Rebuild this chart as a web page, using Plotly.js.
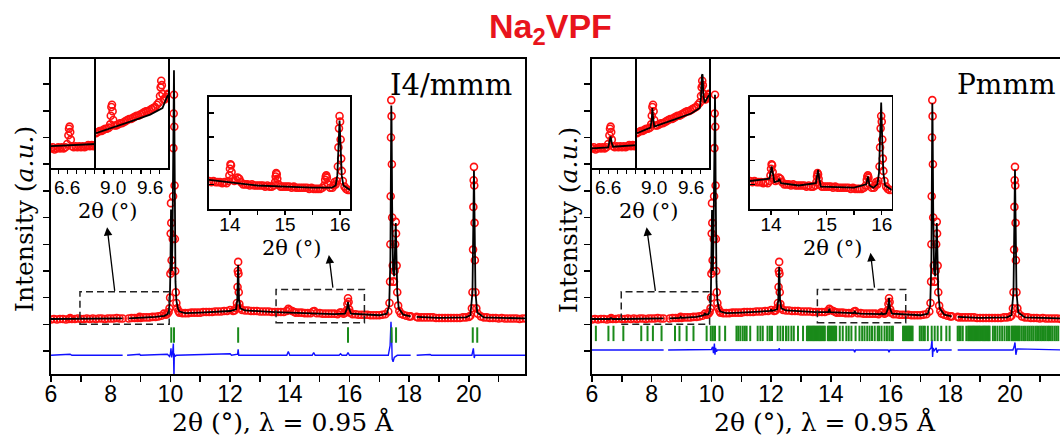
<!DOCTYPE html>
<html><head><meta charset="utf-8">
<script src="https://cdn.plot.ly/plotly-3.0.1.min.js"></script>
<style>body{margin:0;background:#fff}#c{width:1060px;height:437px}</style>
</head><body><div id="c"></div>
<script>
// ---------- main pattern (observed, same data in both panels) ----------
const obsX = [6.0,6.1,6.2,6.3,6.4,6.5,6.6,6.64,6.7,6.8,6.9,7.0,7.1,7.2,7.3,7.4,7.5,7.6,7.7,7.8,7.9,8.0,8.1,8.2,8.3,8.4,null,
8.6,8.7,8.8,8.9,8.97,9.0,9.1,9.2,9.3,9.4,9.5,9.6,9.7,9.78,9.85,9.9,9.94,9.97,9.99,10.0,10.01,10.02,10.03,10.04,
10.06,10.08,10.09,10.10,10.11,10.12,10.13,10.14,10.15,10.16,10.18,10.2,10.23,10.27,10.3,
10.4,10.5,10.6,10.7,10.8,10.9,11.0,11.1,11.2,11.3,11.4,11.5,11.6,11.7,11.8,11.9,12.0,12.1,12.15,12.2,
12.23,12.25,12.26,12.27,12.28,12.29,12.31,12.34,12.4,12.5,12.6,12.7,12.8,12.9,13.0,13.1,13.2,13.3,13.4,13.5,13.6,13.7,13.8,13.9,13.95,14.0,14.08,14.15,14.2,14.3,14.4,14.5,14.6,14.7,14.78,14.82,14.9,15.0,15.1,15.2,15.3,15.4,15.5,15.6,15.68,15.72,15.8,15.86,15.9,15.93,15.95,15.97,15.99,16.02,16.1,16.2,16.3,16.4,16.5,16.6,16.7,16.8,16.9,17.0,17.1,17.2,17.3,17.34,
17.36,17.37,17.38,17.39,17.40,17.41,17.42,17.43,17.45,17.47,17.49,17.51,17.53,17.55,17.56,17.58,17.6,17.63,17.67,17.72,17.8,17.9,18.0,18.05,null,
18.25,18.3,18.4,18.5,18.6,18.7,18.8,18.9,19.0,19.1,19.2,19.3,19.4,19.5,19.6,19.7,19.8,19.9,20.0,20.05,20.1,
20.12,20.14,20.15,20.16,20.17,20.18,20.19,20.2,20.22,20.25,20.3,20.4,20.5,20.6,20.7,20.8,20.9,21.0,21.1,21.2,21.3,21.4,21.5,21.6,21.7,21.8,21.9];
const obsY = [0.09,0.10,0.09,0.10,0.10,0.09,0.10,0.12,0.10,0.10,0.11,0.10,0.10,0.11,0.10,0.11,0.10,0.11,0.11,0.10,0.11,0.11,0.11,0.12,0.11,0.11,null,
0.11,0.12,0.12,0.12,0.14,0.12,0.13,0.13,0.13,0.14,0.14,0.15,0.16,0.20,0.18,0.20,0.23,0.30,0.5,0.95,1.7,2.27,1.9,1.2,
1.0,1.6,2.4,3.3,3.95,4.3,3.7,2.6,1.6,1.0,0.6,0.4,0.3,0.25,0.22,
0.21,0.21,0.21,0.22,0.22,0.22,0.22,0.23,0.23,0.23,0.23,0.24,0.24,0.24,0.25,0.25,0.27,0.25,0.26,0.30,
0.4,0.7,1.0,1.17,0.95,0.6,0.38,0.3,0.27,0.26,0.26,0.25,0.25,0.25,0.24,0.24,0.24,0.24,0.23,0.23,0.23,0.23,0.23,0.25,0.29,0.27,0.25,0.23,0.22,0.22,0.22,0.21,0.21,0.21,0.24,0.25,0.21,0.21,0.20,0.20,0.20,0.20,0.20,0.19,0.22,0.22,0.20,0.22,0.26,0.38,0.49,0.42,0.28,0.22,0.19,0.19,0.18,0.18,0.18,0.18,0.17,0.17,0.17,0.17,0.18,0.19,0.24,0.40,
0.8,1.5,2.4,3.5,4.2,3.9,3.0,2.0,1.1,0.8,0.8,1.0,1.5,1.92,1.7,1.1,0.6,0.35,0.25,0.2,0.18,0.16,0.15,0.15,null,
0.14,0.13,0.13,0.13,0.13,0.13,0.13,0.12,0.12,0.12,0.12,0.12,0.12,0.12,0.12,0.12,0.13,0.13,0.14,0.16,0.3,
0.6,1.4,2.2,2.7,2.95,2.6,1.9,1.2,0.6,0.3,0.2,0.15,0.13,0.13,0.12,0.12,0.12,0.11,0.12,0.11,0.11,0.11,0.11,0.11,0.10,0.11,0.11];

// ---------- calculated patterns ----------
const calcI4X = [6.0,7.0,8.0,8.4,null,8.6,9.0,9.5,9.8,9.9,9.95,9.98,10.0,10.01,10.02,10.03,10.04,10.05,10.07,10.09,10.11,10.12,10.13,10.14,10.15,10.17,10.2,10.25,10.3,10.5,11.0,11.5,12.0,12.2,12.24,12.26,12.27,12.28,12.3,12.34,12.5,13.0,13.5,14.0,14.5,15.0,15.5,15.85,15.92,15.95,15.98,16.05,16.5,17.0,17.25,17.33,17.37,17.39,17.4,17.41,17.43,17.46,17.5,17.53,17.55,17.57,17.6,17.65,17.8,18.05,null,18.25,19.0,19.9,20.05,20.12,20.15,20.17,20.19,20.22,20.28,20.5,21.9];
const calcI4Y = [0.10,0.10,0.11,0.11,null,0.11,0.12,0.14,0.16,0.19,0.25,0.45,1.0,1.8,2.15,1.8,1.2,1.0,1.6,2.8,4.3,4.76,4.0,2.8,1.7,0.8,0.45,0.3,0.24,0.21,0.22,0.24,0.25,0.28,0.45,0.9,1.11,0.9,0.45,0.3,0.26,0.24,0.23,0.22,0.21,0.20,0.19,0.20,0.3,0.42,0.3,0.2,0.18,0.17,0.2,0.35,1.2,3.0,4.1,3.8,2.2,1.0,0.9,1.5,1.9,1.4,0.6,0.3,0.18,0.15,null,0.14,0.12,0.13,0.17,0.6,2.2,2.88,2.0,0.6,0.22,0.13,0.11];
const calcPmX = [6.0,6.6,6.64,6.68,7.0,8.0,8.4,null,8.6,8.94,8.97,9.0,9.5,9.75,9.78,9.81,9.9,9.95,9.98,10.0,10.01,10.02,10.03,10.04,10.05,10.07,10.09,10.11,10.12,10.13,10.14,10.15,10.17,10.2,10.25,10.3,10.5,11.0,11.5,11.97,12.0,12.03,12.2,12.24,12.26,12.27,12.28,12.3,12.34,12.5,13.0,13.5,13.92,13.95,13.98,14.5,14.77,14.8,14.83,15.0,15.5,15.67,15.7,15.73,15.85,15.92,15.95,15.98,16.05,16.5,17.0,17.25,17.33,17.37,17.39,17.4,17.41,17.43,17.46,17.5,17.53,17.55,17.57,17.6,17.65,17.8,18.05,null,18.25,19.0,19.9,20.05,20.12,20.15,20.17,20.19,20.22,20.28,20.5,21.9];
const calcPmY = [0.10,0.10,0.12,0.10,0.10,0.11,0.11,null,0.11,0.12,0.14,0.12,0.14,0.17,0.21,0.18,0.19,0.25,0.45,1.0,1.8,2.14,1.8,1.2,1.0,1.6,2.8,4.0,4.3,3.9,2.8,1.7,0.8,0.45,0.3,0.24,0.21,0.22,0.24,0.25,0.28,0.25,0.28,0.45,0.9,1.08,0.9,0.45,0.3,0.26,0.24,0.23,0.23,0.29,0.23,0.21,0.21,0.25,0.21,0.20,0.19,0.19,0.22,0.19,0.20,0.3,0.49,0.3,0.2,0.18,0.17,0.2,0.35,1.2,3.0,4.14,3.8,2.2,1.0,0.9,1.5,1.9,1.4,0.6,0.3,0.18,0.15,null,0.14,0.12,0.13,0.17,0.6,2.2,2.9,2.0,0.6,0.22,0.13,0.11];

// ---------- difference curves ----------
const diffI4X = [6.0,6.64,6.7,8.4,null,8.55,8.97,9.0,9.78,9.9,9.97,10.0,10.02,10.04,10.08,10.1,10.11,10.12,10.13,10.15,10.2,12.0,12.05,12.25,12.27,12.29,13.9,13.95,14.0,14.75,14.8,14.85,15.65,15.7,15.75,15.9,15.95,16.0,17.3,17.36,17.39,17.41,17.43,17.46,17.5,17.55,17.6,18.05,null,18.25,18.7,18.75,20.1,20.15,20.18,20.2,21.9];
const diffI4Y = [-0.58,-0.56,-0.58,-0.58,null,-0.58,-0.56,-0.58,-0.56,-0.56,-0.6,-0.55,-0.45,-0.62,-0.5,-0.36,-0.7,-1.0,-0.55,-0.6,-0.58,-0.55,-0.58,-0.56,-0.47,-0.58,-0.58,-0.51,-0.58,-0.58,-0.53,-0.58,-0.58,-0.55,-0.58,-0.58,-0.53,-0.58,-0.58,-0.4,0.05,-0.2,-0.65,-0.7,-0.62,-0.6,-0.58,-0.58,null,-0.58,-0.565,-0.58,-0.58,-0.45,-0.63,-0.58,-0.58];
const diffPmX = [6.0,8.4,null,8.55,9.9,10.0,10.04,10.07,10.1,10.12,10.14,10.17,10.2,12.25,12.27,12.29,14.77,14.8,14.83,15.92,15.95,15.98,17.3,17.36,17.39,17.41,17.43,17.46,17.53,17.56,17.6,18.05,null,18.25,20.1,20.14,20.17,20.2,20.24,21.9];
const diffPmY = [-0.48,-0.48,null,-0.48,-0.48,-0.47,-0.42,-0.54,-0.36,-0.57,-0.44,-0.51,-0.48,-0.48,-0.45,-0.48,-0.48,-0.52,-0.48,-0.48,-0.52,-0.48,-0.48,-0.44,-0.29,-0.61,-0.44,-0.5,-0.44,-0.53,-0.48,-0.48,null,-0.48,-0.48,-0.42,-0.34,-0.57,-0.46,-0.48];

// ---------- Bragg reflection positions ----------
const braggI4 = [10.03,10.12,12.27,15.95,17.41,17.56,20.13,20.28];
const braggPm = [6.13,6.55,6.72,7.05,7.65,7.86,8.04,8.33,8.78,8.93,9.17,9.40,9.84,9.98,10.05,10.12,10.27,10.46,
10.84,10.9,10.97,11.05,11.12,11.18,11.3,11.55,11.64,11.72,11.88,11.96,12.03,12.22,12.31,12.4,12.5,12.58,12.68,12.76,12.9,13.07,
13.2,13.24,13.28,13.32,13.36,13.4,13.44,13.48,13.52,13.56,13.6,13.64,13.68,13.72,13.76,13.8,13.9,13.94,13.98,14.02,14.06,14.1,14.14,14.18,
14.3,14.4,14.52,14.6,14.69,14.83,14.96,15.05,15.13,15.22,15.3,15.38,15.47,15.57,15.62,15.7,15.8,15.88,15.96,16.03,16.08,
16.42,16.46,16.5,16.54,16.58,16.62,16.66,16.7,16.74,16.98,17.04,17.1,17.15,17.25,17.38,17.48,17.58,17.7,17.87,17.98,
18.25,18.3,18.35,18.42,18.54,18.6,18.64,18.68,18.72,18.76,18.8,18.84,18.88,18.92,18.96,19.0,19.05,19.09,19.13,19.17,19.21,19.25,19.29,19.32,
19.43,19.5,19.58,19.66,19.74,19.82,19.9,19.97,20.05,20.09,20.13,20.17,20.21,20.25,20.29,20.33,20.4,20.47,20.53,20.6,20.66,20.72,20.78,20.85,
20.91,20.97,21.03,21.08,21.14,21.2,21.26,21.31,21.37,21.43,21.5,21.56,21.62];
const braggLevelI4 = -0.2, braggLevelPm = -0.17;

// ---------- inset A (6.3-7.1) ----------
const insAX = [6.33,6.36,6.39,6.42,6.45,6.48,6.51,6.54,6.57,6.60,6.62,6.63,6.64,6.65,6.66,6.68,6.71,6.74,6.77,6.80,6.83,6.86,6.89,6.92,6.95,6.98,7.01,7.04,7.07];
const insAY = [0.18,0.19,0.17,0.18,0.19,0.18,0.19,0.18,0.19,0.22,0.30,0.36,0.38,0.33,0.26,0.20,0.19,0.20,0.19,0.20,0.19,0.20,0.19,0.20,0.21,0.20,0.21,0.20,0.21];
const insACalcI4X = [6.33,7.08], insACalcI4Y = [0.20,0.22];
const insACalcPmX = [6.33,6.6,6.62,6.64,6.66,6.68,7.08], insACalcPmY = [0.18,0.19,0.24,0.29,0.23,0.195,0.21];
// ---------- inset B (8.7-9.9) ----------
const insBX = [8.72,8.75,8.78,8.81,8.84,8.87,8.90,8.93,8.95,8.96,8.97,8.98,8.99,9.00,9.02,9.05,9.08,9.11,9.14,9.17,9.20,9.23,9.26,9.29,9.32,9.35,9.38,9.41,9.44,9.47,9.50,9.53,9.56,9.59,9.62,9.65,9.68,9.71,9.74,9.76,9.77,9.78,9.79,9.80,9.82,9.84,9.86,9.88,9.89];
const insBY = [0.32,0.33,0.34,0.34,0.35,0.36,0.36,0.37,0.40,0.48,0.56,0.58,0.52,0.44,0.39,0.39,0.40,0.41,0.41,0.42,0.43,0.44,0.45,0.45,0.46,0.47,0.48,0.48,0.49,0.50,0.51,0.52,0.52,0.53,0.54,0.55,0.56,0.58,0.60,0.66,0.74,0.80,0.76,0.68,0.63,0.63,0.65,0.67,0.68];
const insBCalcI4X = [8.72,9.0,9.3,9.6,9.75,9.8,9.85,9.89], insBCalcI4Y = [0.32,0.37,0.43,0.49,0.53,0.55,0.62,0.67];
const insBCalcPmX = [8.72,8.94,8.96,8.97,8.98,9.0,9.3,9.6,9.74,9.76,9.775,9.785,9.80,9.82,9.85,9.89], insBCalcPmY = [0.32,0.37,0.45,0.55,0.47,0.38,0.44,0.50,0.55,0.65,0.85,0.86,0.66,0.6,0.63,0.67];
// ---------- inset C (13.6-16.2) ----------
const insCX = [13.62,13.66,13.70,13.74,13.78,13.82,13.86,13.90,13.94,13.97,13.99,14.00,14.01,14.02,14.03,14.05,14.08,14.11,14.14,14.17,14.20,14.24,14.28,14.32,14.36,14.40,14.44,14.48,14.52,14.56,14.60,14.64,14.68,14.72,14.76,14.80,14.82,14.83,14.84,14.85,14.86,14.88,14.92,14.96,15.00,15.04,15.08,15.12,15.16,15.20,15.24,15.28,15.32,15.36,15.40,15.44,15.48,15.52,15.56,15.60,15.64,15.68,15.71,15.73,15.74,15.75,15.76,15.78,15.82,15.86,15.88,15.90,15.92,15.94,15.96,15.97,15.98,15.99,16.00,16.01,16.02,16.03,16.05,16.08,16.11,16.14,16.18];
const insCY = [0.25,0.24,0.25,0.24,0.24,0.24,0.23,0.24,0.23,0.25,0.30,0.36,0.40,0.39,0.33,0.27,0.25,0.26,0.28,0.27,0.24,0.22,0.22,0.22,0.21,0.22,0.21,0.21,0.21,0.21,0.21,0.20,0.21,0.20,0.20,0.21,0.24,0.29,0.32,0.31,0.27,0.22,0.20,0.20,0.20,0.20,0.20,0.19,0.20,0.19,0.19,0.19,0.19,0.19,0.19,0.18,0.19,0.18,0.18,0.18,0.18,0.19,0.21,0.26,0.29,0.30,0.28,0.22,0.19,0.19,0.21,0.24,0.22,0.25,0.38,0.55,0.72,0.83,0.78,0.62,0.45,0.34,0.25,0.20,0.18,0.17,0.17];
const insCCalcI4X = [13.62,14.0,14.5,15.0,15.5,15.85,15.92,15.95,15.97,15.99,16.01,16.03,16.06,16.18];
const insCCalcI4Y = [0.26,0.24,0.21,0.20,0.19,0.19,0.21,0.30,0.50,0.79,0.55,0.30,0.21,0.17];
const insCCalcPmX = [13.62,13.97,14.0,14.01,14.03,14.06,14.13,14.15,14.18,14.5,14.81,14.84,14.85,14.87,14.9,15.5,15.72,15.75,15.78,15.85,15.92,15.95,15.97,15.99,16.01,16.03,16.06,16.18];
const insCCalcPmY = [0.25,0.27,0.34,0.38,0.33,0.24,0.25,0.27,0.23,0.21,0.23,0.33,0.35,0.27,0.20,0.19,0.22,0.29,0.21,0.19,0.22,0.32,0.58,0.95,0.60,0.32,0.21,0.17];

// ---------- text ----------
const chartTitle = 'Na<sub>2</sub>VPF';
const xTitle = '2θ (°), λ = 0.95 Å';
const yTitle = 'Intensity (<i>a.u.</i>)';
const insetTitle = '2θ (°)';
const groupLeft = 'I4/mmm', groupRight = 'Pmmm';

// ---------- build ----------
const W = 1060, H = 437;
const px = p => p / W, py = p => 1 - p / H;
const RED = '#ff1010', BLK = '#000000', BLUE = '#1010ff', GRN = '#1a8a1a';
const SANS = 'Liberation Sans, Arial, sans-serif';
const SERIF = 'DejaVu Serif, serif';

function obsTrace(x, y, xa, ya, size) {
  return {x, y, xaxis: xa, yaxis: ya, type: 'scatter', mode: 'markers', hoverinfo: 'skip',
    marker: {symbol: 'circle-open', size: size, color: RED, line: {width: 1.6, color: RED}}};
}
function lineTrace(x, y, xa, ya, color, w) {
  return {x, y, xaxis: xa, yaxis: ya, type: 'scatter', mode: 'lines', hoverinfo: 'skip',
    line: {color: color, width: w}};
}
function tickTrace(x, level, xa, ya) {
  return {x, y: x.map(() => level), xaxis: xa, yaxis: ya, type: 'scatter', mode: 'markers', hoverinfo: 'skip',
    marker: {symbol: 'line-ns-open', size: 11, color: GRN, line: {width: 2, color: GRN}}};
}

const traces = [
  obsTrace(obsX, obsY, 'x', 'y', 7),
  lineTrace(calcI4X, calcI4Y, 'x', 'y', BLK, 1.8),
  lineTrace(diffI4X, diffI4Y, 'x', 'y', BLUE, 1.4),
  tickTrace(braggI4, braggLevelI4, 'x', 'y'),
  obsTrace(obsX, obsY, 'x2', 'y2', 7),
  lineTrace(calcPmX, calcPmY, 'x2', 'y2', BLK, 1.8),
  lineTrace(diffPmX, diffPmY, 'x2', 'y2', BLUE, 1.4),
  tickTrace(braggPm, braggLevelPm, 'x2', 'y2'),
  obsTrace(insAX, insAY, 'x3', 'y3', 7), lineTrace(insACalcI4X, insACalcI4Y, 'x3', 'y3', BLK, 1.8),
  obsTrace(insBX, insBY, 'x4', 'y4', 7), lineTrace(insBCalcI4X, insBCalcI4Y, 'x4', 'y4', BLK, 1.8),
  obsTrace(insCX, insCY, 'x5', 'y5', 7), lineTrace(insCCalcI4X, insCCalcI4Y, 'x5', 'y5', BLK, 1.8),
  obsTrace(insAX, insAY, 'x6', 'y6', 7), lineTrace(insACalcPmX, insACalcPmY, 'x6', 'y6', BLK, 1.8),
  obsTrace(insBX, insBY, 'x7', 'y7', 7), lineTrace(insBCalcPmX, insBCalcPmY, 'x7', 'y7', BLK, 1.8),
  obsTrace(insCX, insCY, 'x8', 'y8', 7), lineTrace(insCCalcPmX, insCCalcPmY, 'x8', 'y8', BLK, 1.8)
];

const lineStyle = {showline: true, linecolor: BLK, linewidth: 1.6, showgrid: false, zeroline: false, fixedrange: true};
function mainX(domain, range, anchor, mirror) {
  return Object.assign({}, lineStyle, {domain, range, anchor, mirror,
    ticks: 'outside', ticklen: 6, tickwidth: 1.5, tickcolor: BLK, tick0: 0, dtick: 2,
    minor: {dtick: 1, ticks: 'outside', ticklen: 6, tickwidth: 1.5, tickcolor: BLK, showgrid: false},
    ticklabelstandoff: -7,
    tickfont: {family: SANS, size: 23, color: BLK}});
}
function mainY(domain, range, anchor, mirror) {
  return Object.assign({}, lineStyle, {domain, range, anchor, mirror,
    ticks: 'outside', ticklen: 6, tickwidth: 1.5, tickcolor: BLK, tick0: 0, dtick: 0.5, showticklabels: false});
}
function insX(domain, range, anchor, dtick, minorD, fmt, stand) {
  return Object.assign({}, lineStyle, {domain, range, anchor, mirror: true,
    ticks: 'outside', ticklen: 4, tickwidth: 1.3, tickcolor: BLK, tick0: 0, dtick, tickformat: fmt,
    minor: {dtick: minorD, ticks: 'outside', ticklen: 4, tickwidth: 1.3, tickcolor: BLK, showgrid: false},
    ticklabelstandoff: stand,
    tickfont: {family: SANS, size: 19, color: BLK}});
}
function insY(domain, anchor, withTicks, lw) {
  const o = Object.assign({}, lineStyle, {domain, range: [0, 1], anchor, mirror: true, showticklabels: false});
  if (lw) o.linewidth = lw;
  if (withTicks) Object.assign(o, {ticks: 'inside', ticklen: 5, tickwidth: 1.3, tickcolor: BLK, tick0: 0.43, dtick: 0.214});
  else o.ticks = '';
  return o;
}

const yMainDom = [py(374), py(59)];
const yABDom = [py(168), py(59)];
const yCDom = [py(209), py(97)];
const DASH = {color: '#222', width: 1.5, dash: '7px,4px'};

const layout = {
  width: W, height: H, margin: {l: 0, r: 0, t: 0, b: 0},
  paper_bgcolor: '#ffffff', plot_bgcolor: '#ffffff', showlegend: false,
  xaxis: mainX([px(51), px(525)], [6, 21.88], 'y', true),
  yaxis: mainY(yMainDom, [-0.93, 4.97], 'x', true),
  xaxis2: mainX([px(592), 1], [6, 21.678], 'y2', true),
  yaxis2: mainY(yMainDom, [-0.93, 4.97], 'x2', false),
  xaxis3: insX([px(51), px(96)], [6.33, 7.08], 'y3', 0.6, 0.15, '.1f', -2),
  yaxis3: insY(yABDom, 'x3', false, 2.2),
  xaxis4: insX([px(96), px(168)], [8.72, 9.89], 'y4', 0.6, 0.15, '.1f', -2),
  yaxis4: insY(yABDom, 'x4', false),
  xaxis5: insX([px(209), px(350)], [13.62, 16.18], 'y5', 1, 0.5, 'd', -6),
  yaxis5: insY(yCDom, 'x5', true),
  xaxis6: insX([px(592), px(637)], [6.33, 7.08], 'y6', 0.6, 0.15, '.1f', -2),
  yaxis6: insY(yABDom, 'x6', false, 2.2),
  xaxis7: insX([px(637), px(709)], [8.72, 9.89], 'y7', 0.6, 0.15, '.1f', -2),
  yaxis7: insY(yABDom, 'x7', false),
  xaxis8: insX([px(750), px(891.7)], [13.62, 16.18], 'y8', 1, 0.5, 'd', -6),
  yaxis8: insY(yCDom, 'x8', true),
  shapes: [
    {type: 'rect', xref: 'x', yref: 'y', x0: 6.97, x1: 9.96, y0: 0.0, y1: 0.61, line: DASH},
    {type: 'rect', xref: 'x', yref: 'y', x0: 13.54, x1: 16.5, y0: 0.03, y1: 0.655, line: DASH},
    {type: 'rect', xref: 'x2', yref: 'y2', x0: 6.98, x1: 9.94, y0: 0.0, y1: 0.61, line: DASH},
    {type: 'rect', xref: 'x2', yref: 'y2', x0: 13.55, x1: 16.51, y0: 0.03, y1: 0.655, line: DASH}
  ],
  annotations: [
    {xref: 'paper', yref: 'paper', x: px(550), y: py(28), xanchor: 'center', yanchor: 'middle', showarrow: false,
     text: '<b>' + chartTitle + '</b>', font: {family: 'Liberation Sans, Arial, sans-serif', size: 34, color: '#e8141c'}},
    {xref: 'paper', yref: 'paper', x: px(283), y: py(422), xanchor: 'center', yanchor: 'middle', showarrow: false,
     text: xTitle, font: {family: SERIF, size: 25, color: BLK}},
    {xref: 'paper', yref: 'paper', x: px(825), y: py(422), xanchor: 'center', yanchor: 'middle', showarrow: false,
     text: xTitle, font: {family: SERIF, size: 25, color: BLK}},
    {xref: 'paper', yref: 'paper', x: px(24), y: py(219), xanchor: 'center', yanchor: 'middle', showarrow: false, textangle: -90,
     text: yTitle, font: {family: SERIF, size: 25, color: BLK}},
    {xref: 'paper', yref: 'paper', x: px(568), y: py(220), xanchor: 'center', yanchor: 'middle', showarrow: false, textangle: -90,
     text: yTitle, font: {family: SERIF, size: 25, color: BLK}},
    {xref: 'paper', yref: 'paper', x: px(514), y: py(85), xanchor: 'right', yanchor: 'middle', showarrow: false,
     text: groupLeft, font: {family: SERIF, size: 29, color: BLK}},
    {xref: 'paper', yref: 'paper', x: px(955), y: py(84), xanchor: 'left', yanchor: 'middle', showarrow: false,
     text: groupRight, font: {family: SERIF, size: 28, color: BLK}},
    {xref: 'paper', yref: 'paper', x: px(108), y: py(211), xanchor: 'center', yanchor: 'middle', showarrow: false,
     text: insetTitle, font: {family: SERIF, size: 21, color: BLK}},
    {xref: 'paper', yref: 'paper', x: px(292), y: py(248), xanchor: 'center', yanchor: 'middle', showarrow: false,
     text: insetTitle, font: {family: SERIF, size: 21, color: BLK}},
    {xref: 'paper', yref: 'paper', x: px(649), y: py(211), xanchor: 'center', yanchor: 'middle', showarrow: false,
     text: insetTitle, font: {family: SERIF, size: 21, color: BLK}},
    {xref: 'paper', yref: 'paper', x: px(833), y: py(248), xanchor: 'center', yanchor: 'middle', showarrow: false,
     text: insetTitle, font: {family: SERIF, size: 21, color: BLK}},
    {xref: 'x', yref: 'y', axref: 'x', ayref: 'y', x: 7.88, y: 1.82, ax: 8.14, ay: 0.60, text: '', showarrow: true,
     arrowhead: 2, arrowsize: 1.3, arrowwidth: 1.3, arrowcolor: BLK},
    {xref: 'x', yref: 'y', axref: 'x', ayref: 'y', x: 15.31, y: 1.30, ax: 15.45, ay: 0.66, text: '', showarrow: true,
     arrowhead: 2, arrowsize: 1.3, arrowwidth: 1.3, arrowcolor: BLK},
    {xref: 'x2', yref: 'y2', axref: 'x2', ayref: 'y2', x: 7.83, y: 1.82, ax: 8.13, ay: 0.60, text: '', showarrow: true,
     arrowhead: 2, arrowsize: 1.3, arrowwidth: 1.3, arrowcolor: BLK},
    {xref: 'x2', yref: 'y2', axref: 'x2', ayref: 'y2', x: 15.33, y: 1.34, ax: 15.47, ay: 0.66, text: '', showarrow: true,
     arrowhead: 2, arrowsize: 1.3, arrowwidth: 1.3, arrowcolor: BLK}
  ]
};

Plotly.newPlot('c', traces, layout, {displayModeBar: false, staticPlot: true});
</script>
</body></html>
